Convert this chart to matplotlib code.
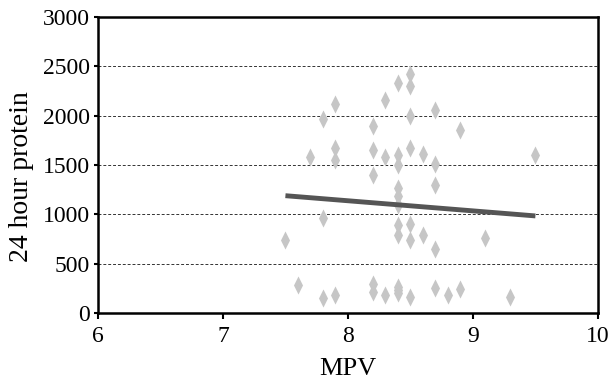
import numpy as np
import matplotlib.pyplot as plt
from matplotlib.path import Path

# MPV vs 24 hour protein
mpv = [7.5, 7.6, 7.7,
       7.8, 7.8, 7.8,
       7.9, 7.9, 7.9, 7.9,
       8.2, 8.2, 8.2, 8.2, 8.2,
       8.3, 8.3, 8.3,
       8.4, 8.4, 8.4, 8.4, 8.4, 8.4, 8.4, 8.4, 8.4, 8.4, 8.4,
       8.5, 8.5, 8.5, 8.5, 8.5, 8.5, 8.5,
       8.6, 8.6,
       8.7, 8.7, 8.7, 8.7, 8.7,
       8.8,
       8.9, 8.9,
       9.1, 9.3, 9.5]
protein = [745, 284, 1580,
           1970, 960, 149,
           2115, 1670, 1550, 182,
           1900, 1650, 1400, 300, 210,
           2160, 1580, 182,
           2335, 1605, 1505, 1270, 1185, 1100, 892, 790, 265, 200, 233,
           2420, 2300, 1995, 1670, 905, 740, 165,
           1615, 790,
           2058, 1510, 1295, 652, 250,
           182,
           1855, 240,
           757, 165, 1601]

# fitted line endpoints
trend_x = [7.5, 9.5]
trend_y = [1190, 985]

plt.rcParams["font.family"] = ["Liberation Serif", "DejaVu Serif"]

diamond = Path([(0, 1), (0.5, 0), (0, -1), (-0.5, 0), (0, 1)],
               [Path.MOVETO, Path.LINETO, Path.LINETO, Path.LINETO, Path.CLOSEPOLY])

fig = plt.figure(figsize=(6.12, 3.8), dpi=100)
ax = fig.add_axes([0.160, 0.176, 0.817, 0.779])

for yv in [500, 1000, 1500, 2000, 2500]:
    ax.axhline(yv, color="#333333", linestyle=(0, (3, 2)), linewidth=0.7, zorder=1)

ax.plot(mpv, protein, linestyle="none", marker=diamond, markersize=13,
        markerfacecolor="#c6c6c6", markeredgecolor="none", zorder=2)
ax.plot(trend_x, trend_y, color="#555555", linewidth=3.5, solid_capstyle="butt", zorder=3)

ax.set_xlim(6, 10)
ax.set_ylim(0, 3000)
ax.set_xticks([6, 7, 8, 9, 10])
ax.set_yticks([0, 500, 1000, 1500, 2000, 2500, 3000])

for side in ["left", "right", "top", "bottom"]:
    ax.spines[side].set_linewidth(1.8)
    ax.spines[side].set_color("black")

ax.tick_params(direction="out", width=1.5, labelsize=17, colors="black")
ax.tick_params(axis="x", length=4, pad=5)
ax.tick_params(axis="y", length=3, pad=3)
ax.set_xlabel("MPV", fontsize=19, labelpad=8)
ax.set_ylabel("24 hour protein", fontsize=20)
ax.yaxis.set_label_coords(-0.128, 0.46)

plt.savefig("out.png", dpi=100)
